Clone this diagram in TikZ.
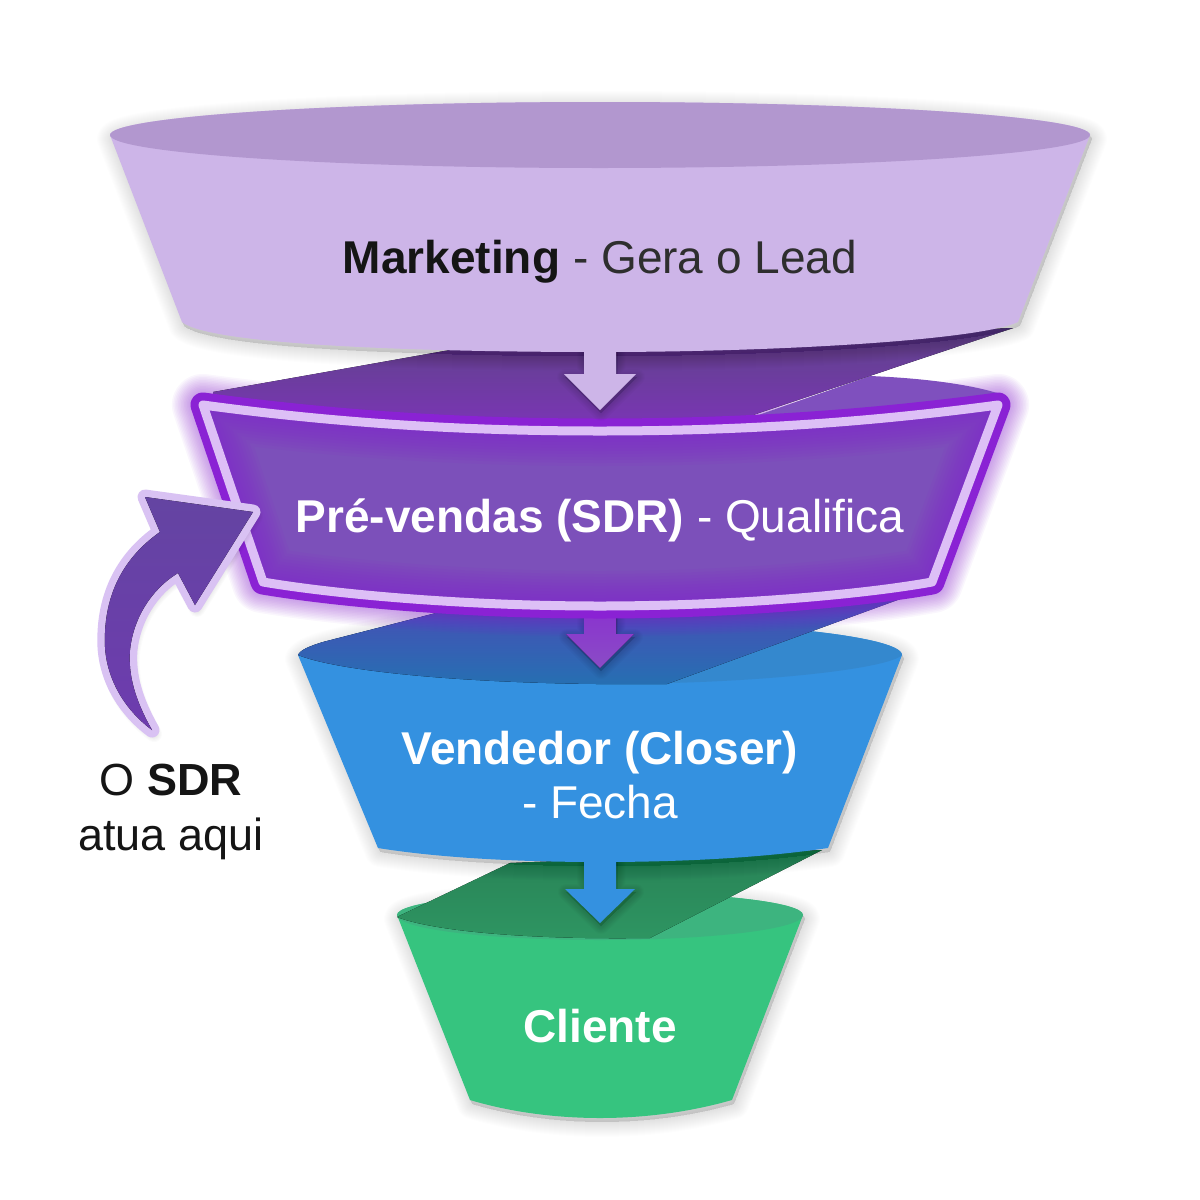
\documentclass[tikz,border=0pt]{standalone}
\usepackage{fontspec}
\setmainfont{Liberation Sans}
\usetikzlibrary{calc}
\definecolor{lilacbody}{HTML}{CDB5E8}
\definecolor{lilactop}{HTML}{B297CF}
\definecolor{shadeA}{HTML}{5E4489}
\definecolor{shadeM}{HTML}{664093}
\definecolor{shadeB}{HTML}{7A35B4}
\definecolor{violetfill}{HTML}{7C50BA}
\definecolor{violetedge}{HTML}{8A22D4}
\definecolor{violetlight}{HTML}{DDBFF6}
\definecolor{violettop}{HTML}{7F50BE}
\definecolor{bluebody}{HTML}{3491E0}
\definecolor{bluetop}{HTML}{2570B2}
\definecolor{bluelit}{HTML}{3488CE}
\definecolor{blueshadeA}{HTML}{4A4CB6}
\definecolor{greenbody}{HTML}{36C47F}
\definecolor{greentop}{HTML}{2E9562}
\definecolor{greenlit}{HTML}{3DB47F}
\definecolor{arrowlight}{HTML}{D9C2F3}
\definecolor{arrowdark}{HTML}{6444A2}
\definecolor{arrowmid}{HTML}{8A4CC6}
\definecolor{inktext}{HTML}{151515}
\definecolor{softtext}{HTML}{2E2E2E}
\newcommand{\FunA}{(110,135) .. controls (110,117) and (329,102) .. (600,102) .. controls (871,102) and (1090,117) .. (1090,135) -- (1018,322) .. controls (980,340) and (780,352) .. (600,352) .. controls (420,352) and (210,345) .. (182,322) -- cycle}
\newcommand{\FunAtop}{(110,135) .. controls (110,117) and (329,102) .. (600,102) .. controls (871,102) and (1090,117) .. (1090,135) .. controls (1090,153) and (871,168) .. (600,168) .. controls (329,168) and (110,153) .. (110,135) -- cycle}
\newcommand{\FunB}{(203,405) .. controls (350,425) and (480,431) .. (600,431) .. controls (720,431) and (850,425) .. (998,405) -- (932,582) .. controls (860,595) and (730,606) .. (600,606) .. controls (470,606) and (340,595) .. (263,582) -- cycle}
\newcommand{\FunC}{(298,655) .. controls (300,650) and (310,646) .. (323,642) -- (440,612) -- (800,630) .. controls (860,636) and (902,645) .. (902,655) -- (828,848) .. controls (760,858) and (680,862) .. (600,862) .. controls (520,862) and (440,858) .. (378,848) -- cycle}
\newcommand{\FunCtop}{(667,684) -- (800,630) .. controls (860,636) and (902,645) .. (902,655) .. controls (890,668) and (767,684) .. (600,684) -- cycle}
\newcommand{\FunD}{(397,915) .. controls (397,902) and (488,892) .. (600,892) .. controls (712,892) and (803,902) .. (803,915) -- (732,1100) .. controls (690,1112) and (645,1118) .. (600,1118) .. controls (555,1118) and (510,1112) .. (470,1100) -- cycle}
\newcommand{\FunDtop}{(397,915) .. controls (397,902) and (488,892) .. (600,892) .. controls (712,892) and (803,902) .. (803,915) .. controls (803,929) and (712,940) .. (600,940) .. controls (488,940) and (397,929) .. (397,915) -- cycle}
\newcommand{\CurveArrow}{(253,512) -- (145,497) -- (160,532) .. controls (120,560) and (103,600) .. (105,647) .. controls (107,680) and (125,710) .. (152,730) .. controls (135,700) and (128,675) .. (130,650) .. controls (133,620) and (150,590) .. (178,573) -- (195,605) -- cycle}
\newcommand{\softdrop}[3]{%
  \foreach \w in {30,28,...,2}{\path[shift={(#1,#2)},fill=black,draw=black,line join=round,line width=\w pt,fill opacity=.0085,draw opacity=.0085] #3;}}
\newcommand{\softglow}[1]{%
  \foreach \w in {62,59,...,26}{\path[draw=violetedge,line join=round,line width=\w pt,draw opacity=.04] #1;}}
\newcommand{\softtip}[3]{%
  \foreach \w in {16,14,...,2}{\path[shift={(#1,#2)},fill=black,draw=black,line join=round,line width=\w pt,fill opacity=.014,draw opacity=.014] #3;}}
\newcommand{\blockarrow}[5]{%
  (600-#1,#2) -- (600+#1,#2) -- (600+#1,#3) -- (600+#4,#3) -- (600,#5) -- (600-#4,#3) -- (600-#1,#3) -- cycle}
\tikzset{
  funneltext/.style={font=\fontsize{46}{54}\selectfont,align=center,text=white,inner sep=0pt},
  sidetext/.style={font=\fontsize{45}{55}\selectfont,align=center,text=inktext,inner sep=0pt},
}
\begin{document}
\begin{tikzpicture}[x=1pt,y=-1pt]
\useasboundingbox (0,0) rectangle (1200,1200);
\fill[white] (0,0) rectangle (1200,1200);

% --- green funnel
\softdrop{2}{4}{\FunD}
\fill[greenbody] \FunD;
\fill[greenlit] \FunDtop;
\fill[top color=greentop!88!black,bottom color=greentop] (397,917) -- (510,863) -- (822,850) -- (650,938) .. controls (520,940) and (430,930) .. (397,917) -- cycle;

% --- blue funnel
\softdrop{2}{4}{\FunC}
\softtip{1}{3}{\blockarrow{16}{858}{889}{35}{923}}
\fill[bluebody] \blockarrow{16}{858}{889}{35}{923};
\fill[bluebody] \FunC;
\fill[bluelit] \FunCtop;
\fill[top color=blueshadeA,bottom color=bluetop] (298,655) .. controls (300,650) and (310,646) .. (323,642) -- (440,612) -- (903,598) -- (667,684) .. controls (480,686) and (340,672) .. (298,655) -- cycle;

% --- violet funnel
\softglow{\FunB}
\path[fill=violettop] (750,418) -- (870,376) .. controls (920,378) and (970,384) .. (1000,394) -- (998,420) -- cycle;
\fill[top color=shadeA,middle color=shadeM,bottom color=shadeB] (213,392) -- (450,350) -- (1013,328) -- (750,416) -- (600,425) -- (213,405) -- cycle;
\softtip{1}{3}{\blockarrow{16}{600}{634}{34}{668}}
\fill[top color=violetedge!70!arrowmid,bottom color=arrowmid] \blockarrow{16}{600}{634}{34}{668};
\draw[violetedge,line width=25pt,line join=round] \FunB;
\fill[violetfill] \FunB;
\begin{scope}
\clip \FunB;
\foreach \w in {70,64,...,6}{\path[draw=violetedge,line join=round,line width=\w pt,draw opacity=.075] \FunB;}
\end{scope}
\draw[violetlight,line width=9pt,line join=round] \FunB;

% --- lilac funnel
\softdrop{2}{4}{\FunA}
\softtip{1}{3}{\blockarrow{16}{345}{374}{36}{410}}
\fill[lilacbody] \blockarrow{16}{345}{374}{36}{410};
\fill[lilacbody] \FunA;
\fill[lilactop] \FunAtop;

% --- curved arrow
\softtip{2}{4}{\CurveArrow}
\draw[arrowlight,line width=15pt,line join=round] \CurveArrow;
\fill[top color=arrowdark,bottom color=arrowdark!75!violetedge] \CurveArrow;

% --- texts
\node[funneltext,text=inktext] (tm) at (600,262) {\textbf{Marketing}\hspace{13pt}\textcolor{softtext}{- Gera o Lead}};
\node[funneltext] (tp) at (600,520) {\textbf{Pré-vendas (SDR)} - Qualifica};
\node[funneltext] (tv) at (600,775) {\textbf{Vendedor (Closer)}\\- Fecha};
\node[funneltext] (tc) at (600,1026) {\textbf{Cliente}};
\node[sidetext] (ts) at (171,812) {O \textbf{SDR}\\atua aqui};
\end{tikzpicture}
\end{document}
